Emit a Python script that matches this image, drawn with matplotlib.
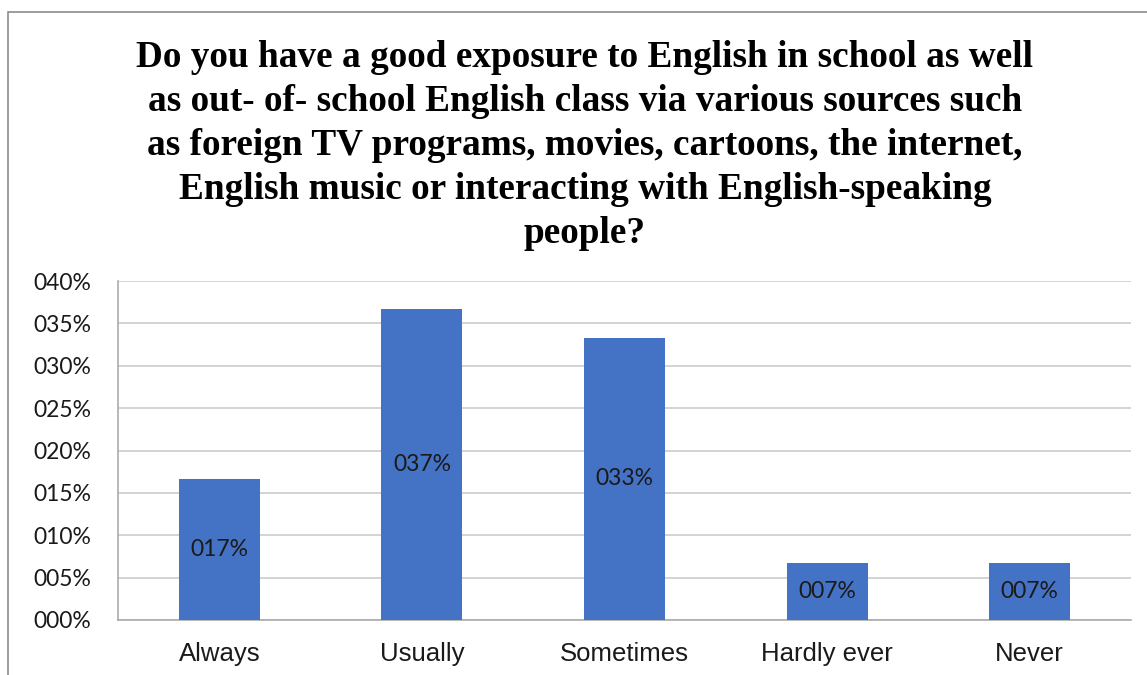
import matplotlib.pyplot as plt
from matplotlib.patches import Rectangle

# survey answers, share of respondents in percent
categories = ['Always', 'Usually', 'Sometimes', 'Hardly ever', 'Never']
shares = [16.67, 36.67, 33.33, 6.67, 6.67]
yticks = [0, 5, 10, 15, 20, 25, 30, 35, 40]

title = ('Do you have a good exposure to English in school as well\n'
         'as out- of- school English class via various sources such\n'
         'as foreign TV programs, movies, cartoons, the internet,\n'
         'English music or interacting with English-speaking\n'
         'people?')

W, H = 1147, 675
fig = plt.figure(figsize=(W / 100, H / 100), dpi=100)

# outer chart frame (runs off the right and bottom edges)
fig.patches.append(Rectangle((8 / W, -0.1), 1.2, 1.1 - 12 / H, transform=fig.transFigure,
                             fill=False, edgecolor='#8c8c8c', linewidth=1.2))

ax = fig.add_axes([118 / W, 1 - 620 / H, (1131 - 118) / W, (620 - 281) / H])

x = range(len(categories))
bars = ax.bar(x, shares, width=0.4, color='#4472C4', zorder=3)
for rect, v in zip(bars, shares):
    ax.text(rect.get_x() + rect.get_width() / 2, v / 2, f'{v:03.0f}%',
            ha='center', va='center', fontsize=16.5, family='Lato', color='#1a1a1a', zorder=4)

ax.set_xlim(-0.5, len(categories) - 0.5)
ax.set_ylim(0, 40)
ax.set_yticks(yticks)
ax.set_yticklabels([f'{t:03d}%' for t in yticks], family='Lato', fontsize=16.5, color='#1a1a1a')
ax.set_xticks(list(x))
ax.set_xticklabels(categories, family='Liberation Sans', fontsize=18.5, color='#1a1a1a')
ax.tick_params(length=0, axis='y', pad=19)
ax.tick_params(length=0, axis='x', pad=16)

ax.grid(axis='y', color='#c8c8c8', linewidth=1.1, zorder=0)
for side in ['top', 'right']:
    ax.spines[side].set_visible(False)
ax.spines['left'].set_color('#a6a6a6')
ax.spines['bottom'].set_color('#a6a6a6')
ax.spines['left'].set_linewidth(1.1)
ax.spines['bottom'].set_linewidth(1.1)

fig.text(585 / W, 1 - 40 / H, title, ha='center', va='top', family='Liberation Serif',
         fontweight='bold', fontsize=26.8, linespacing=1.33)

fig.savefig('out.png', dpi=100, facecolor='white')
